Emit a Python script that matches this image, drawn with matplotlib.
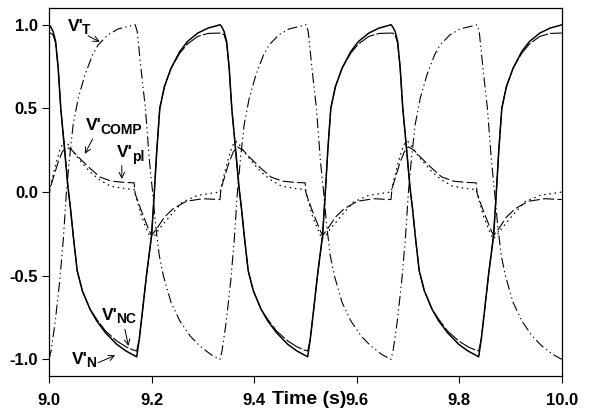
import numpy as np
import matplotlib
matplotlib.use("Agg")
import matplotlib.pyplot as plt

plt.rcParams['font.family'] = ['Liberation Sans', 'DejaVu Sans']
plt.rcParams['font.weight'] = 'bold'

t_start = 9.0
period = 1 / 3
n_periods = 3

vn_phase = [0.000, 0.003, 0.008, 0.013, 0.018, 0.023, 0.030, 0.037, 0.042, 0.048,
            0.055, 0.065, 0.080, 0.093, 0.110, 0.132, 0.150, 0.165, 0.171, 0.176,
            0.182, 0.190, 0.200, 0.205, 0.210, 0.216, 0.225, 0.238, 0.255, 0.270,
            0.290, 0.310, 0.328, 0.333]
vn = [1.00, 0.99, 0.96, 0.90, 0.74, 0.50, 0.27, 0.03, -0.10, -0.28,
      -0.47, -0.59, -0.70, -0.77, -0.84, -0.91, -0.95, -0.975, -0.985, -0.88,
      -0.72, -0.50, -0.26, -0.02, 0.24, 0.50, 0.63, 0.74, 0.84, 0.90,
      0.95, 0.98, 0.995, 1.00]
vnc = [0.95, 0.95, 0.94, 0.89, 0.74, 0.50, 0.27, 0.03, -0.10, -0.28,
       -0.47, -0.59, -0.70, -0.76, -0.83, -0.89, -0.925, -0.945, -0.95, -0.88,
       -0.72, -0.50, -0.26, -0.02, 0.24, 0.50, 0.63, 0.74, 0.83, 0.885,
       0.93, 0.948, 0.95, 0.95]

vt_phase = [0.000, 0.004, 0.012, 0.021, 0.028, 0.034, 0.040, 0.047, 0.057, 0.070,
            0.085, 0.096, 0.115, 0.135, 0.155, 0.168, 0.172, 0.180, 0.188, 0.196,
            0.202, 0.208, 0.215, 0.223, 0.238, 0.255, 0.275, 0.294, 0.315, 0.333]
vt = [-1.00, -0.95, -0.78, -0.53, -0.28, 0.00, 0.20, 0.40, 0.56, 0.70,
      0.82, 0.88, 0.94, 0.975, 0.99, 1.00, 0.96, 0.72, 0.50, 0.18,
      0.00, -0.20, -0.38, -0.50, -0.66, -0.77, -0.86, -0.92, -0.97, -1.00]

vpl_phase = [0.000, 0.002, 0.010, 0.018, 0.026, 0.034, 0.045, 0.057, 0.077, 0.099,
             0.122, 0.145, 0.166, 0.168, 0.181, 0.194, 0.200, 0.212, 0.225, 0.242,
             0.268, 0.300, 0.333]
vpl = [-0.045, 0.02, 0.10, 0.18, 0.24, 0.27, 0.25, 0.21, 0.15, 0.09,
       0.065, 0.058, 0.055, -0.01, -0.12, -0.22, -0.26, -0.21, -0.15, -0.10,
       -0.055, -0.04, -0.045]

vcomp_phase = [0.000, 0.004, 0.012, 0.020, 0.028, 0.034, 0.045, 0.060, 0.080, 0.100,
               0.120, 0.145, 0.166, 0.170, 0.180, 0.190, 0.199, 0.206, 0.215, 0.237,
               0.260, 0.290, 0.333]
vcomp = [0.00, 0.05, 0.15, 0.24, 0.30, 0.30, 0.25, 0.19, 0.12, 0.07,
         0.035, 0.022, 0.015, -0.03, -0.14, -0.22, -0.28, -0.26, -0.22, -0.14,
         -0.06, -0.02, 0.00]


def repeat_periods(phase, values):
    t = np.concatenate([t_start + k * period + np.array(phase) for k in range(n_periods)])
    v = np.tile(values, n_periods)
    return t, v


fig, ax = plt.subplots(figsize=(5.9, 4.11), dpi=100)
fig.subplots_adjust(left=0.083, right=0.9525, bottom=0.085, top=0.9805)

ax.plot(*repeat_periods(vt_phase, vt), color='black', lw=0.8,
        linestyle=(0, (9, 3, 1.2, 3, 1.2, 3)))
ax.plot(*repeat_periods(vcomp_phase, vcomp), color='black', lw=0.9,
        linestyle=(0, (1.2, 3)))
ax.plot(*repeat_periods(vpl_phase, vpl), color='black', lw=0.8,
        linestyle=(0, (10, 3)))
ax.plot(*repeat_periods(vn_phase, vnc), color='black', lw=0.8,
        linestyle=(0, (16, 2)))
ax.plot(*repeat_periods(vn_phase, vn), color='black', lw=1.1)

ax.set_xlim(9.0, 10.0)
ax.set_ylim(-1.1, 1.1)
ax.set_xticks(np.arange(9.0, 10.01, 0.2))
ax.set_yticks([-1.0, -0.5, 0.0, 0.5, 1.0])
ax.xaxis.set_major_formatter(matplotlib.ticker.FormatStrFormatter('%.1f'))
ax.yaxis.set_major_formatter(matplotlib.ticker.FormatStrFormatter('%.1f'))
ax.tick_params(direction='out', length=5, width=0.8, labelsize=12)
ax.tick_params(axis='x', pad=7)
ax.tick_params(axis='y', pad=3)
for s in ax.spines.values():
    s.set_linewidth(0.9)

ax.set_xlabel('Time (s)', fontsize=14, fontweight='bold')
ax.xaxis.set_label_coords(0.508, -0.063)
ax.xaxis.label.set_va('center')

arrow = dict(arrowstyle='->', lw=0.7, color='black', shrinkA=0, shrinkB=0)
labels = [
    ('T', (9.037, 0.99), (9.076, 0.934), (9.099, 0.898)),
    ('COMP', (9.072, 0.395), (9.085, 0.317), (9.070, 0.228)),
    ('pl', (9.133, 0.234), (9.142, 0.158), (9.142, 0.078)),
    ('NC', (9.103, -0.737), (9.148, -0.82), (9.155, -0.92)),
    ('N', (9.045, -1.0), (9.096, -1.02), (9.129, -0.976)),
]
for sub, pos, start, tip in labels:
    main = ax.text(pos[0], pos[1], "V'", fontsize=12.5, ha='left', va='center')
    ax.annotate(sub, xy=(1, 0), xycoords=main, xytext=(-1, -2.5),
                textcoords='offset points', fontsize=10, ha='left', va='bottom')
    ax.annotate('', xy=tip, xytext=start, arrowprops=arrow)

fig.savefig('out.png', dpi=100)
